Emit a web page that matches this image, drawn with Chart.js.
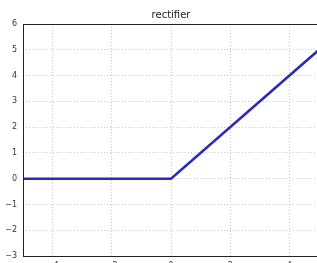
<!DOCTYPE html>
<html lang="en">
<head>
    <meta charset="UTF-8">
    <title>rectifier</title>
    <script src="https://cdn.jsdelivr.net/npm/chart.js"></script>
    <style>
        html, body {
          margin: 0;
          padding: 0;
          overflow: hidden;
          background: #fff;
        }
        /* the original plot runs past the window on the right and bottom */
        .wrap {
          width: 342px;
          height: 282px;
        }
    </style>
</head>
<body>
    <div class="wrap">
        <canvas id="myChart" width="342" height="282"></canvas>
    </div>

    <script>
        // ReLU sample points (x, y)
        const xValues = [-5, 0, 5];
        const yValues = [0, 0, 5];
        const xTicks = [-4, -2, 0, 2, 4];
        const yTicks = [-3, -2, -1, 0, 1, 2, 3, 4, 5, 6];

        const points = xValues.map((x, i) => ({ x: x, y: yValues[i] }));

        // matplotlib style minus sign
        const fmt = v => String(v).replace('-', '\u2212');

        // box around the whole plot area
        const frame = {
            id: 'frame',
            afterDraw(chart) {
                const a = chart.chartArea;
                const c = chart.ctx;
                c.save();
                c.strokeStyle = '#222';
                c.lineWidth = 1;
                c.strokeRect(a.left + 0.5, a.top + 0.5, a.right - a.left, a.bottom - a.top);
                c.restore();
            }
        };

        const ctx = document.getElementById('myChart').getContext('2d');
        const myChart = new Chart(ctx, {
            type: 'scatter',
            data: {
                datasets: [{
                    label: 'rectifier',
                    data: points,
                    showLine: true,
                    borderColor: '#2a2ab8',
                    borderWidth: 2.5,
                    pointRadius: 0,
                    fill: false
                }]
            },
            plugins: [frame],
            options: {
                responsive: false,
                animation: false,
                layout: {
                    padding: { left: 0, right: 23, top: 0, bottom: 0 }
                },
                plugins: {
                    legend: { display: false },
                    tooltip: { enabled: false }
                },
                scales: {
                    x: {
                        type: 'linear',
                        min: -5,
                        max: 5,
                        afterBuildTicks: axis => { axis.ticks = xTicks.map(v => ({ value: v })); },
                        afterFit: axis => { axis.height = 26; },
                        grid: {
                            color: '#c8c8c8',
                            drawTicks: false
                        },
                        border: { display: false, dash: [1, 2] },
                        ticks: {
                            padding: 5,
                            color: '#333',
                            font: { family: 'DejaVu Sans', size: 8 },
                            callback: v => fmt(v)
                        }
                    },
                    // top axis only carries the title, so it is centred over the plot
                    top: {
                        type: 'linear',
                        position: 'top',
                        min: -5,
                        max: 5,
                        afterFit: axis => { axis.height = 24; },
                        grid: { display: false, drawTicks: false },
                        border: { display: false },
                        ticks: { display: false },
                        title: {
                            display: true,
                            text: 'rectifier',
                            color: '#1a1a1a',
                            font: { family: 'DejaVu Sans', size: 10 },
                            padding: { top: 9, bottom: 3 }
                        }
                    },
                    y: {
                        min: -3,
                        max: 6,
                        afterBuildTicks: axis => { axis.ticks = yTicks.map(v => ({ value: v })); },
                        afterFit: axis => { axis.width = 23; },
                        grid: {
                            color: '#c8c8c8',
                            drawTicks: false
                        },
                        border: { display: false, dash: [1, 2] },
                        ticks: {
                            padding: 6,
                            color: '#333',
                            font: { family: 'DejaVu Sans', size: 8 },
                            callback: v => fmt(v)
                        }
                    }
                }
            }
        });
    </script>
</body>
</html>
